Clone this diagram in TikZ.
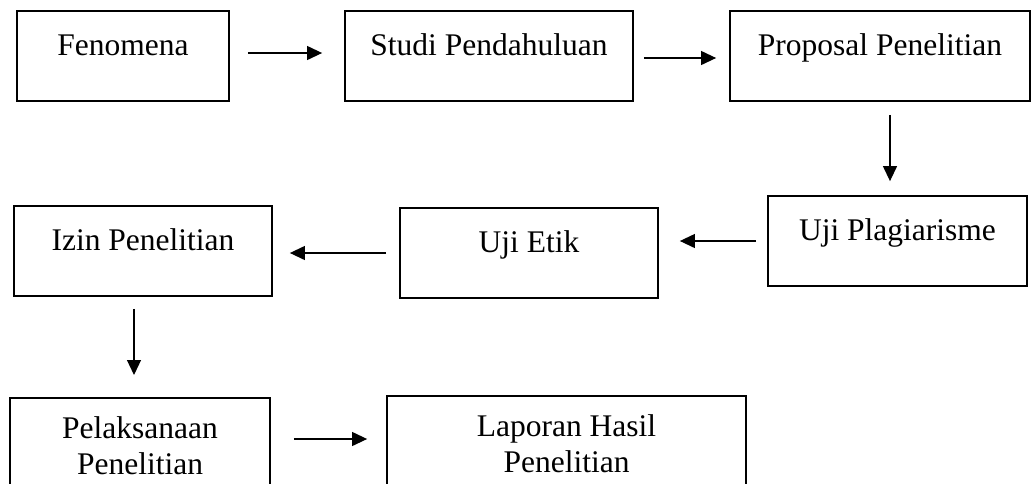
\documentclass[tikz,border=0pt]{standalone}
\usepackage{fontspec}
\setmainfont{Liberation Serif}
\usetikzlibrary{arrows.meta}

\begin{document}
\begin{tikzpicture}[x=1pt,y=-1pt,font=\fontsize{31.5}{36}\selectfont,
		kotak/.style={draw,line width=1.8pt,inner sep=0pt,text height=44pt,text depth=46pt,anchor=base},
		kotakdua/.style={draw,line width=1.8pt,inner xsep=0pt,inner ysep=18.5pt,align=center,anchor=north},
		panah/.style={line width=1.2pt,-{Triangle[length=15pt,width=14pt]}}]
		\useasboundingbox (0,0) rectangle (1036,483);
		\clip (0,0) rectangle (1036,483);
		% baris atas
		\node[kotak,minimum width=212pt] (fen) at (123,55) {Fenomena};
		\node[kotak,minimum width=288pt] (studi) at (489,55) {Studi Pendahuluan};
		\node[kotak,minimum width=300pt] (prop) at (880,55) {Proposal Penelitian};
		% baris tengah
		\node[kotak,minimum width=259pt] (plag) at (897.5,240) {Uji Plagiarisme};
		\node[kotak,minimum width=258pt] (etik) at (529,252) {Uji Etik};
		\node[kotak,minimum width=258pt] (izin) at (143,250) {Izin Penelitian};
		% baris bawah
		\node[kotakdua,minimum width=260pt] (pel) at (140,397) {Pelaksanaan\\Penelitian};
		\node[kotakdua,minimum width=359pt] (lap) at (566.5,395) {Laporan Hasil\\Penelitian};
		\coordinate (pelmid) at ([yshift=-42pt]pel.north east);
		% panah
		\draw[panah,shorten <=18pt,shorten >=22pt] ([yshift=3pt]fen.east) -- ([yshift=3pt]fen.east -| studi.west);
		\draw[panah,shorten <=10pt,shorten >=13pt] ([yshift=-2pt]studi.east) -- ([yshift=-2pt]studi.east -| prop.west);
		\draw[panah,shorten <=13pt,shorten >=14pt] ([xshift=10pt]prop.south) -- ([xshift=10pt]prop.south |- plag.north);
		\draw[panah,shorten <=11pt,shorten >=21pt] (plag.west) -- (plag.west -| etik.east);
		\draw[panah,shorten <=13pt,shorten >=17pt] (etik.west) -- (etik.west -| izin.east);
		\draw[panah,shorten <=12pt,shorten >=22pt] ([xshift=-9pt]izin.south) -- ([xshift=-9pt]izin.south |- pel.north);
		\draw[panah,shorten <=23pt,shorten >=19pt] (pelmid) -- (pelmid -| lap.west);
\end{tikzpicture}
\end{document}
